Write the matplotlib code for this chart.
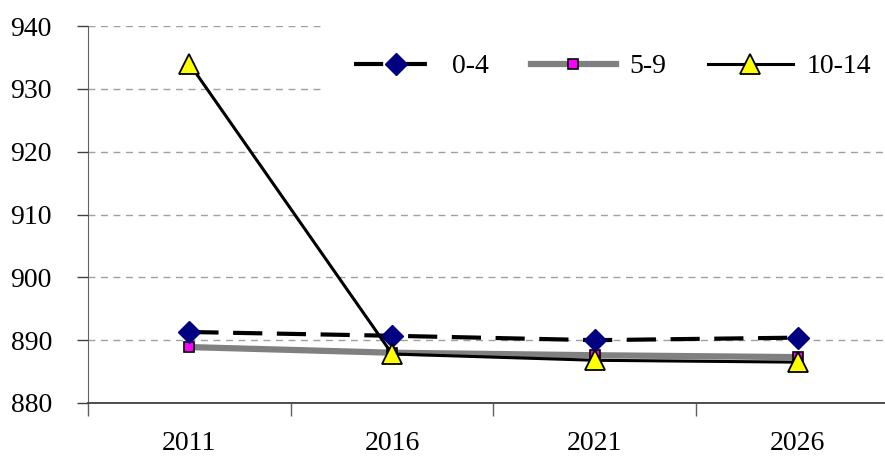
import matplotlib
matplotlib.use('Agg')
import matplotlib.pyplot as plt

# population by age group, thousands
years = ['2011', '2016', '2021', '2026']
age_0_4 = [891.3, 890.7, 890.0, 890.4]
age_5_9 = [888.9, 888.0, 887.6, 887.3]
age_10_14 = [934.0, 887.8, 886.8, 886.5]

plt.rcParams['font.family'] = ['Liberation Serif', 'DejaVu Serif']

fig = plt.figure(figsize=(8.85, 4.62), dpi=100)
ax = fig.add_axes([88 / 885, 1 - 403 / 462, (899 - 88) / 885, (403 - 26) / 462])

x = range(len(years))
ax.plot(x, age_0_4, color='black', lw=3, dashes=(7, 3.5),
        marker='D', ms=11, mfc='#000080', mec='#000080', label='0-4', zorder=4)
ax.plot(x, age_5_9, color='#808080', lw=4.5,
        marker='s', ms=7, mfc='#ff00ff', mec='black', mew=1.2, label='5-9', zorder=3)
ax.plot(x, age_10_14, color='black', lw=2.2,
        marker='^', ms=14, mfc='#ffff00', mec='black', mew=1.3, label='10-14', zorder=5)

ax.set_ylim(880, 940)
ax.set_yticks(range(880, 941, 10))
ax.set_xlim(-0.5, 3.5)
ax.set_xticks(list(x))
ax.set_xticklabels(years)
ax.set_xticks([-0.5, 0.5, 1.5, 2.5, 3.5], minor=True)
ax.tick_params(axis='x', which='major', length=0, pad=20, labelsize=20)
ax.tick_params(axis='x', which='minor', length=9, width=1, color='#606060')
ax.tick_params(axis='y', length=8, width=1, color='#404040', labelsize=20, pad=18)

ax.yaxis.grid(True, color='#a0a0a0', ls=(0, (5, 4)), lw=1)
ax.set_axisbelow(True)
for side in ['top', 'right']:
    ax.spines[side].set_visible(False)
ax.spines['left'].set_color('#606060')
ax.spines['bottom'].set_color('#404040')
ax.spines['bottom'].set_linewidth(1.3)

leg = ax.legend(loc='upper right', bbox_to_anchor=(1.0, 1.0), ncol=3, frameon=True,
                fontsize=20, handlelength=3.05, handletextpad=0.5, columnspacing=1.5,
                borderpad=1.0, fancybox=False, borderaxespad=0)
leg.get_frame().set_edgecolor('white')
leg.get_frame().set_facecolor('white')
leg.get_frame().set_alpha(1)

fig.savefig('out.png', dpi=100)
